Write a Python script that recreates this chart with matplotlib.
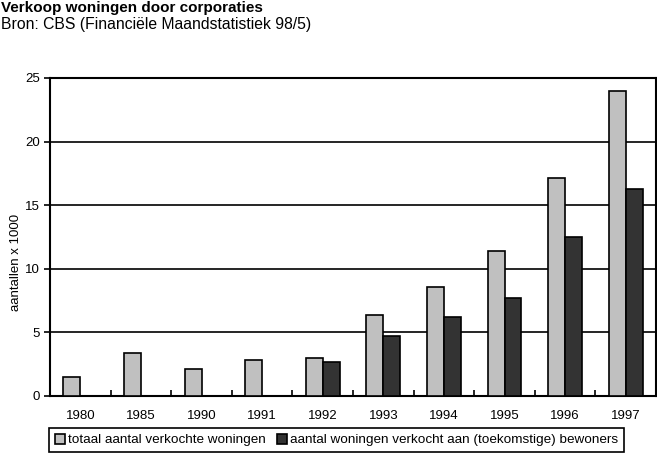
import numpy as np
import matplotlib.pyplot as plt

plt.rcParams['font.family'] = ['Liberation Sans', 'DejaVu Sans']

jaren = ['1980', '1985', '1990', '1991', '1992', '1993', '1994', '1995', '1996', '1997']
totaal = [1.5, 3.4, 2.1, 2.8, 3.0, 6.4, 8.6, 11.4, 17.1, 24.0]
bewoners = [0, 0, 0, 0, 2.7, 4.7, 6.2, 7.7, 12.5, 16.3]

fig = plt.figure(figsize=(6.57, 4.58), dpi=100)
ax = fig.add_axes([50 / 657, 62 / 458, 606 / 657, 318 / 458])

x = np.arange(len(jaren))
w = 0.28
ax.bar(x - w / 2, totaal, w, color='#c0c0c0', edgecolor='black', linewidth=1.2,
       label='totaal aantal verkochte woningen', zorder=3)
ax.bar(x + w / 2, bewoners, w, color='#333333', edgecolor='black', linewidth=1.2,
       label='aantal woningen verkocht aan (toekomstige) bewoners', zorder=3)

ax.set_xlim(-0.5, len(jaren) - 0.5)
ax.set_ylim(0, 25)
ax.set_yticks([0, 5, 10, 15, 20, 25])
ax.yaxis.grid(True, color='black', linewidth=1.2, zorder=0)
ax.tick_params(axis='y', direction='out', length=4, width=1.2, labelsize=9.5, pad=3)

ax.set_xticks(x)
ax.set_xticklabels(jaren)
ax.tick_params(axis='x', length=0, labelsize=9.5, pad=10)
ax.set_xticks(np.arange(0.5, len(jaren) - 0.5, 1), minor=True)
ax.tick_params(axis='x', which='minor', direction='in', length=4, width=1.2)

for s in ax.spines.values():
    s.set_linewidth(1.5)
    s.set_color('black')

fig.text(16 / 657, 1 - 262 / 458, 'aantallen x 1000', rotation=90,
         ha='center', va='center', fontsize=9.5)

fig.text(1 / 657, 1 - 8 / 458, 'Verkoop woningen door corporaties', fontsize=11,
         fontweight='bold', va='center', ha='left')
fig.text(1 / 657, 1 - 24 / 458, 'Bron: CBS (Financiële Maandstatistiek 98/5)', fontsize=11.3,
         va='center', ha='left')

leg = fig.legend(loc='center', bbox_to_anchor=(0.512, 1 - 440 / 458), ncol=2,
                 fontsize=9.7, frameon=True, fancybox=False, framealpha=1,
                 edgecolor='black', handlelength=0.8, handleheight=0.8,
                 handletextpad=0.2, columnspacing=0.8, borderpad=0.4,
                 borderaxespad=0)
leg.get_frame().set_linewidth(1.2)

fig.savefig('out.png', dpi=100)
